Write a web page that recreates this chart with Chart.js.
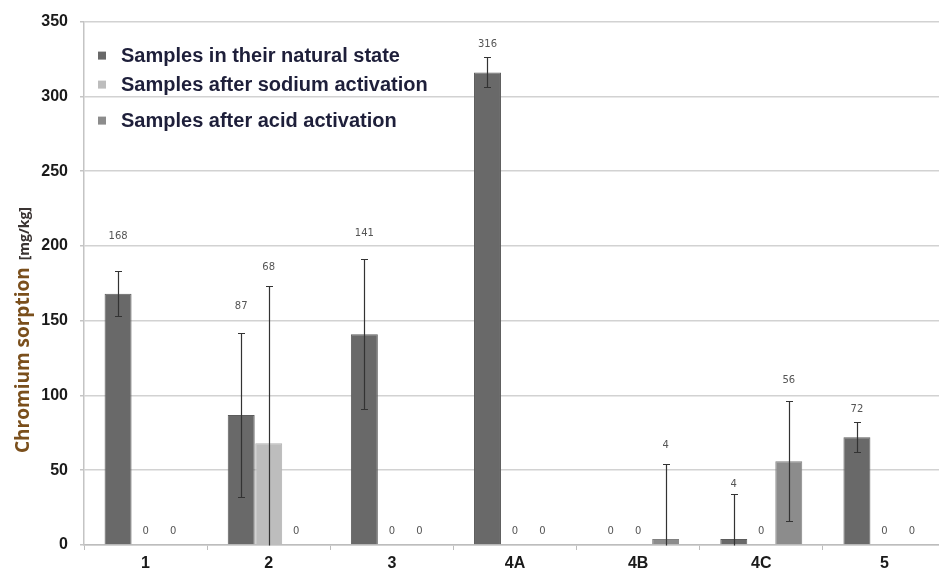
<!DOCTYPE html>
<html>
<head>
<meta charset="utf-8">
<script src="https://cdn.jsdelivr.net/npm/chart.js@4"></script>
<style>
  html, body { margin: 0; padding: 0; overflow: hidden; background: #ffffff; }
  canvas { display: block; }
</style>
</head>
<body>
<canvas id="chart" width="946" height="569"></canvas>
<script>
// Sample groups along the x axis
const categories = ['1', '2', '3', '4A', '4B', '4C', '5'];

// Chromium sorption [mg/kg] for each treatment
const naturalState    = [168, 87, 141, 316, 0, 4, 72];
const sodiumActivated = [0, 68, 0, 0, 0, 0, 0];
const acidActivated   = [0, 0, 0, 0, 4, 56, 0];

// Error bar half-widths [mg/kg]
const naturalError = [15, 55, 50, 10, 0, 30, 10];
const sodiumError  = [0, 105, 0, 0, 0, 0, 0];
const acidError    = [0, 0, 0, 0, 50, 40, 0];

// Y axis ticks
const yTicks = [0, 50, 100, 150, 200, 250, 300, 350];

const seriesNames = [
  'Samples in their natural state',
  'Samples after sodium activation',
  'Samples after acid activation'
];

const fills   = ['#696969', '#bdbdbd', '#8c8c8c'];
const borders = ['#5c5c5c', '#b1b1b1', '#808080'];

function makeDataset(i, values, errors) {
  return {
    label: seriesNames[i],
    data: values,
    errors: errors,
    backgroundColor: fills[i],
    borderColor: borders[i],
    borderWidth: ctx => (ctx.raw ? 1 : 0),
    categoryPercentage: 0.67,
    barPercentage: 0.98
  };
}

// Error bars (clipped at the axis minimum, like the spreadsheet original)
const errorBarPlugin = {
  id: 'errorBars',
  afterDatasetsDraw(chart) {
    const { ctx } = chart;
    const y = chart.scales.y;
    ctx.save();
    ctx.strokeStyle = '#333333';
    ctx.lineWidth = 1.2;
    chart.data.datasets.forEach((ds, di) => {
      const meta = chart.getDatasetMeta(di);
      meta.data.forEach((bar, j) => {
        const v = ds.data[j], e = ds.errors[j];
        if (!e) return;
        const hi = v + e, lo = v - e;
        const x = Math.round(bar.x) + 0.5;
        const yHi = Math.round(y.getPixelForValue(hi)) + 0.5;
        const yLo = Math.round(y.getPixelForValue(Math.max(lo, y.min))) + 0.5;
        ctx.beginPath();
        ctx.moveTo(x, yHi); ctx.lineTo(x, yLo);
        ctx.moveTo(x - 3.5, yHi); ctx.lineTo(x + 3.5, yHi);
        if (lo >= y.min) { ctx.moveTo(x - 3.5, yLo); ctx.lineTo(x + 3.5, yLo); }
        ctx.stroke();
      });
    });
    ctx.restore();
  }
};

// Value labels above each bar / error bar
const valueLabelPlugin = {
  id: 'valueLabels',
  afterDatasetsDraw(chart, args, opts) {
    const { ctx } = chart;
    const y = chart.scales.y;
    ctx.save();
    ctx.font = '10px "DejaVu Sans"';
    ctx.fillStyle = '#555555';
    ctx.textAlign = 'center';
    ctx.textBaseline = 'middle';
    chart.data.datasets.forEach((ds, di) => {
      const meta = chart.getDatasetMeta(di);
      meta.data.forEach((bar, j) => {
        const v = ds.data[j], e = ds.errors[j];
        let ty;
        if (v === 0) {
          ty = y.getPixelForValue(0) - opts.zeroLift;
        } else {
          const gap = (opts.gaps[di] && opts.gaps[di][j]) || opts.defaultGap;
          ty = y.getPixelForValue(v + e) - gap;
        }
        ctx.fillText(String(v), bar.x, ty);
      });
    });
    ctx.restore();
  }
};

// Legend drawn inside the plot area, upper left
const innerLegendPlugin = {
  id: 'innerLegend',
  afterDraw(chart, args, opts) {
    const { ctx, chartArea } = chart;
    ctx.save();
    ctx.font = 'bold 20px "Liberation Sans", Arial, sans-serif';
    ctx.textBaseline = 'middle';
    ctx.textAlign = 'left';
    chart.data.datasets.forEach((ds, i) => {
      const cy = chartArea.top + opts.rows[i];
      const mx = chartArea.left + opts.markerX;
      ctx.fillStyle = ds.backgroundColor;
      ctx.fillRect(mx, cy - 4, 8, 8);
      ctx.fillStyle = '#1e1f3a';
      ctx.fillText(ds.label, chartArea.left + opts.textX, cy + 1);
    });
    ctx.restore();
  }
};

// Rotated y-axis title in two sizes
const yTitlePlugin = {
  id: 'yTitle',
  afterDraw(chart) {
    const { ctx, chartArea } = chart;
    ctx.save();
    ctx.translate(29, chartArea.bottom - 92);
    ctx.rotate(-Math.PI / 2);
    ctx.textBaseline = 'alphabetic';
    ctx.textAlign = 'left';
    ctx.font = 'bold 19px "Open Sans", sans-serif';
    ctx.fillStyle = '#7a4f1c';
    const main = 'Chromium sorption';
    ctx.fillText(main, 0, 0);
    const w = ctx.measureText(main).width;
    ctx.font = 'bold 14px "Open Sans", sans-serif';
    ctx.fillStyle = '#3a3433';
    ctx.fillText('[mg/kg]', w + 7, 0);
    ctx.restore();
  }
};

new Chart(document.getElementById('chart'), {
  type: 'bar',
  data: {
    labels: categories,
    datasets: [
      makeDataset(0, naturalState, naturalError),
      makeDataset(1, sodiumActivated, sodiumError),
      makeDataset(2, acidActivated, acidError)
    ]
  },
  options: {
    responsive: false,
    animation: false,
    layout: { padding: { top: 14, right: 0, left: 0, bottom: 0 } },
    plugins: {
      legend: { display: false },
      tooltip: { enabled: false },
      valueLabels: {
        zeroLift: 14,
        defaultGap: 18,
        gaps: [[35, 26, 26, 13, 0, 10, 13], [0, 19], [0, 0, 0, 0, 19, 21, 0]]
      },
      innerLegend: { markerX: 14, textX: 37, rows: [34, 63, 99] }
    },
    scales: {
      x: {
        grid: {
          drawOnChartArea: false,
          drawTicks: true,
          tickLength: 5,
          tickColor: '#bdbdbd'
        },
        border: { display: true, color: '#bdbdbd', width: 1.5 },
        ticks: {
          color: '#1a1a1a',
          font: { family: '"Liberation Sans", Arial, sans-serif', weight: 'bold', size: 16 },
          padding: 4
        },
        afterFit(scale) { scale.height = 24; }
      },
      y: {
        min: yTicks[0],
        max: yTicks[yTicks.length - 1],
        afterBuildTicks(scale) { scale.ticks = yTicks.map(v => ({ value: v })); },
        grid: {
          color: '#d2d2d2',
          lineWidth: 1.5,
          tickLength: 4,
          tickColor: '#c4c4c4'
        },
        border: { display: true, color: '#c4c4c4', width: 1.5 },
        ticks: {
          color: '#1a1a1a',
          font: { family: '"Liberation Sans", Arial, sans-serif', weight: 'bold', size: 16 },
          padding: 12
        },
        afterFit(scale) { scale.width = 84; }
      }
    }
  },
  plugins: [errorBarPlugin, valueLabelPlugin, innerLegendPlugin, yTitlePlugin]
});
</script>
</body>
</html>
